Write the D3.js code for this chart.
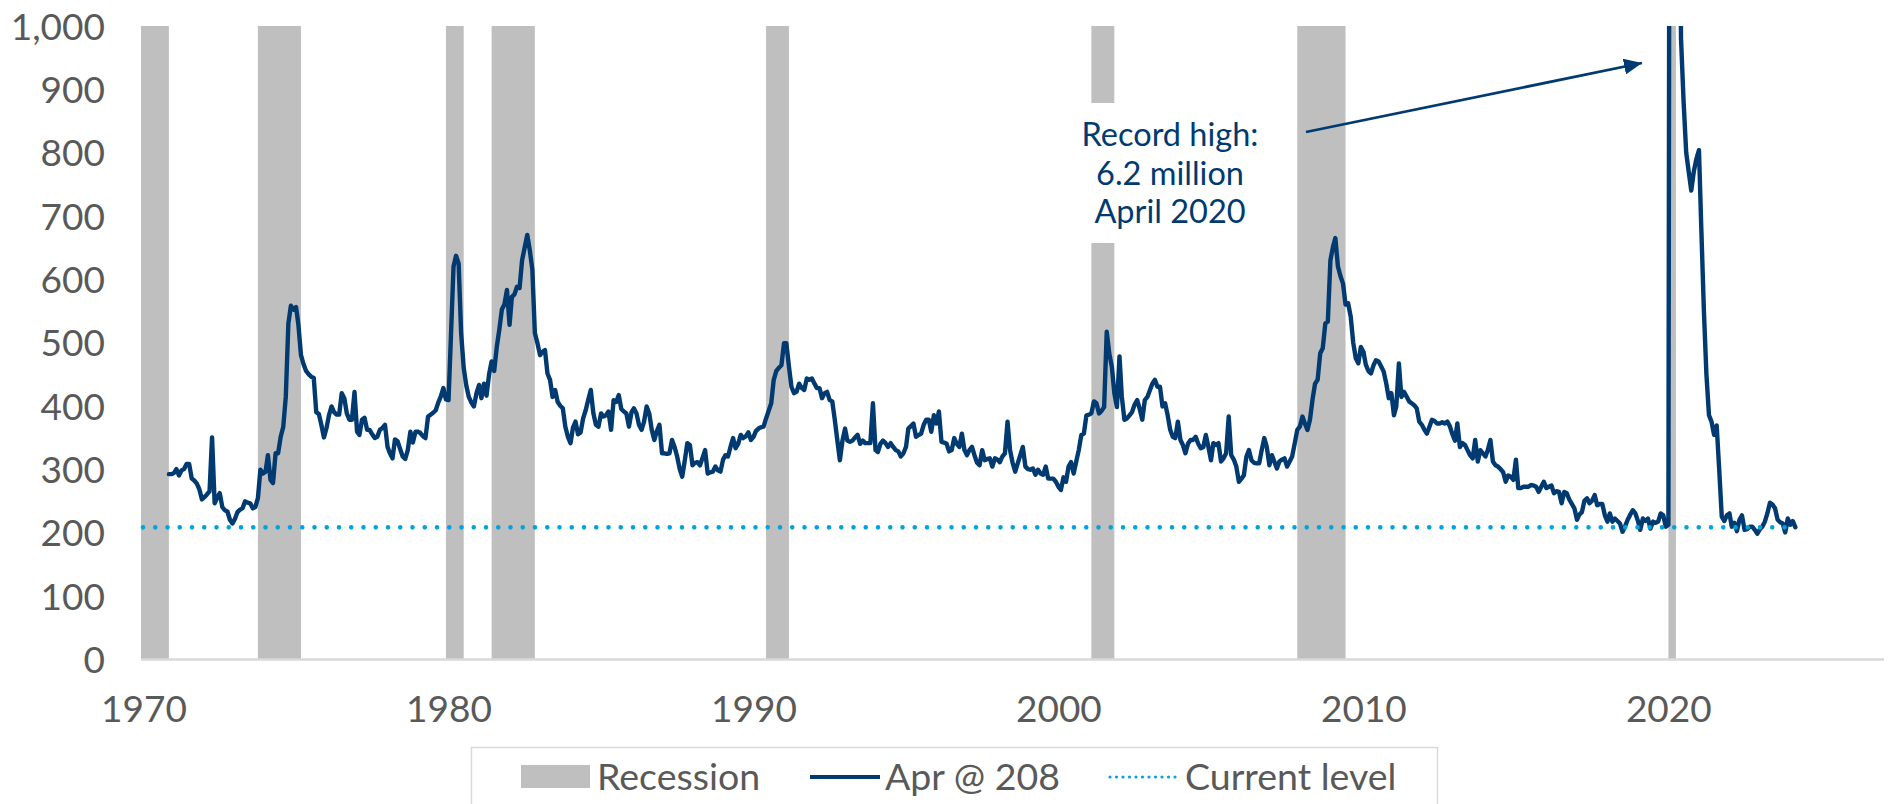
<!DOCTYPE html>
<html>
<head>
<meta charset="utf-8">
<script src="https://cdn.jsdelivr.net/npm/d3@7"></script>
<style>
  html, body { margin: 0; padding: 0; background: #ffffff; }
  svg { display: block; font-family: Lato, "Open Sans", "Noto Sans", sans-serif; }
</style>
</head>
<body>
<svg id="chart" width="1890" height="804"></svg>
<script>
// ---------------- DATA ----------------
// Monthly initial jobless claims (thousands), first value = Dec 1970
const firstMonth = "1970-12";
const claims1970s = [
  292,
  292, 294, 300, 290, 298, 300, 308, 308, 285, 282, 277, 268,
  252, 256, 260, 265, 350, 246, 255, 262, 240, 235, 233, 220,
  214, 222, 232, 236, 238, 249, 247, 246, 238, 240, 254, 299,
  293, 296, 322, 283, 278, 325, 325, 351, 367, 414, 530, 558,
  552, 556, 528, 480, 466, 455, 450, 446, 444, 390, 387, 370,
  350, 365, 385, 399, 390, 386, 386, 420, 412, 388, 378, 378,
  422, 359, 354, 378, 381, 362, 362, 355, 349, 351, 362, 365,
  370, 335, 325, 317, 347, 344, 332, 320, 316, 330, 359, 342,
  359, 359, 357, 352, 349, 383, 386, 389, 393, 405, 415, 428
];
const claims1980s = [
  410, 409, 510, 620, 637, 625, 515, 460, 432, 414, 405, 399,
  420, 433, 412, 435, 416, 450, 470, 455, 493, 520, 552, 560,
  583, 528, 572, 576, 588, 586, 630, 650, 670, 646, 615, 515,
  499, 480, 485, 488, 451, 441, 414, 425, 406, 400, 396, 367,
  351, 341, 365, 375, 355, 358, 380, 393, 410, 425, 388, 370,
  367, 388, 383, 385, 391, 362, 409, 406, 417, 395, 391, 388,
  367, 390, 396, 388, 370, 362, 375, 399, 388, 362, 346, 360,
  370, 325, 325, 324, 325, 346, 335, 320, 300, 288, 314, 341,
  338, 306, 310, 311, 306, 318, 330, 293, 295, 296, 304, 298,
  296, 315, 322, 320, 335, 349, 333, 340, 354, 349, 352, 358
];
const claims1990s = [
  346, 351, 360, 364, 366, 367, 380, 392, 404, 441, 455, 460,
  464, 499, 499, 462, 430, 420, 422, 435, 428, 425, 443, 441,
  443, 435, 428, 428, 412, 420, 422, 409, 407, 378, 345, 314,
  345, 364, 345, 343, 345, 350, 354, 340, 345, 341, 341, 341,
  404, 330, 327, 340, 345, 341, 335, 341, 335, 330, 328, 320,
  325, 335, 364, 368, 372, 351, 354, 356, 370, 378, 378, 359,
  385, 372, 391, 343, 342, 340, 328, 330, 349, 340, 335, 356,
  330, 322, 330, 335, 322, 310, 306, 330, 314, 316, 317, 304,
  317, 315, 311, 320, 325, 375, 330, 310, 296, 309, 322, 335,
  304, 300, 299, 301, 291, 299, 293, 291, 304, 285, 285, 285
];
const claims2000s = [
  280, 272, 267, 287, 280, 304, 311, 293, 312, 330, 354, 356,
  385, 386, 388, 407, 404, 388, 392, 398, 517, 483, 462, 420,
  398, 478, 414, 378, 380, 385, 390, 402, 409, 395, 378, 409,
  414, 425, 435, 441, 430, 430, 399, 404, 385, 362, 351, 349,
  375, 346, 338, 325, 340, 346, 346, 351, 340, 333, 335, 354,
  335, 314, 341, 338, 341, 312, 317, 325, 383, 322, 315, 304,
  280, 285, 290, 320, 330, 314, 310, 309, 309, 330, 349, 335,
  306, 322, 312, 301, 312, 315, 317, 304, 312, 320, 341, 362,
  367, 383, 372, 362, 378, 410, 435, 441, 483, 491, 530, 533,
  630, 651, 665, 620, 605, 593, 560, 562, 541, 500, 475, 467
];
const claims2010s = [
  493, 485, 465, 455, 451, 464, 472, 470, 462, 454, 435, 412,
  420, 385, 399, 467, 414, 422, 415, 407, 404, 401, 396, 375,
  370, 362, 356, 367, 378, 376, 372, 372, 374, 372, 375, 368,
  355, 345, 372, 335, 341, 338, 330, 322, 317, 346, 312, 330,
  325, 320, 330, 346, 312, 306, 304, 300, 295, 280, 290, 288,
  283, 315, 270, 270, 272, 272, 272, 275, 274, 272, 264, 272,
  280, 270, 272, 274, 262, 265, 264, 246, 264, 262, 252, 245,
  238, 220, 228, 232, 250, 254, 246, 250, 259, 243, 245, 245,
  227, 217, 230, 217, 222, 218, 214, 201, 210, 220, 228, 235,
  230, 218, 204, 222, 218, 222, 206, 217, 215, 217, 230, 227
];
const claims2020s = [
  209, 212, 2900, 6200, 2600, 1450, 980, 880, 800, 770, 740, 770,
  790, 804, 680, 550, 450, 385, 375, 354, 369, 300, 225, 218,
  227, 230, 209, 215, 202, 220, 227, 204, 205, 209, 209, 204,
  198, 205, 209, 217, 230, 247, 244, 238, 220, 216, 214, 200,
  222, 212, 218, 208
];
const recessions = [
  ["1969-12", "1970-11"], ["1973-11", "1975-03"], ["1980-01", "1980-07"],
  ["1981-07", "1982-11"], ["1990-07", "1991-03"], ["2001-03", "2001-11"],
  ["2007-12", "2009-06"], ["2020-02", "2020-04"]
];
const currentLevel = 208;
const yTicks = [0, 100, 200, 300, 400, 500, 600, 700, 800, 900, 1000];
const xTickYears = [1970, 1980, 1990, 2000, 2010, 2020];
const legendLabels = ["Recession", "Apr @ 208", "Current level"];
const annotationLines = ["Record high:", "6.2 million", "April 2020"];

// ---------------- SETUP ----------------
const C = {
  line: "#003A70", rec: "#BFBFBF", dot: "#00A3E0",
  axis: "#D9D9D9", text: "#595959"
};
const ym = s => { const [y, m] = s.split("-").map(Number); return new Date(Date.UTC(y, m - 1, 1)); };
const ymNext = s => { const [y, m] = s.split("-").map(Number); return new Date(Date.UTC(y, m, 1)); };

const start = ym(firstMonth);
const values = [].concat(claims1970s, claims1980s, claims1990s, claims2000s, claims2010s, claims2020s);
const series = values.map((v, i) => ({
  date: new Date(Date.UTC(start.getUTCFullYear(), start.getUTCMonth() + i, 1)),
  value: v
}));

const plot = { left: 141, right: 1884, top: 26, bottom: 659 };
const x = d3.scaleUtc()
  .domain([new Date(Date.UTC(1970, 0, 1)), new Date(Date.UTC(2027, 1, 26))])
  .range([plot.left, plot.right]);
const y = d3.scaleLinear().domain([0, 1000]).range([plot.bottom, plot.top]);

const svg = d3.select("#chart");
svg.append("rect").attr("width", 1890).attr("height", 804).attr("fill", "#fff");

const defs = svg.append("defs");
defs.append("clipPath").attr("id", "plotClip")
  .append("rect").attr("x", plot.left).attr("y", plot.top)
  .attr("width", plot.right - plot.left).attr("height", plot.bottom - plot.top);
defs.append("marker").attr("id", "arrowHead")
  .attr("markerUnits", "userSpaceOnUse")
  .attr("markerWidth", 20).attr("markerHeight", 16)
  .attr("refX", 18).attr("refY", 8).attr("orient", "auto")
  .append("path").attr("d", "M0,0 L18,8 L0,16 Z").attr("fill", C.line);

// Recession bars
const g = svg.append("g").attr("clip-path", "url(#plotClip)");
g.selectAll("rect.rec").data(recessions).join("rect")
  .attr("class", "rec")
  .attr("x", d => x(ym(d[0])))
  .attr("width", d => x(ymNext(d[1])) - x(ym(d[0])))
  .attr("y", y(1000))
  .attr("height", y(0) - y(1000))
  .attr("fill", C.rec);

// Annotation background box
svg.append("rect").attr("x", 1072).attr("y", 103).attr("width", 196).attr("height", 140).attr("fill", "#fff");

// X axis baseline
svg.append("line")
  .attr("x1", plot.left).attr("x2", plot.right)
  .attr("y1", y(0) + 0.5).attr("y2", y(0) + 0.5)
  .attr("stroke", C.axis).attr("stroke-width", 2.5);

// Claims line
g.append("path").datum(series)
  .attr("fill", "none").attr("stroke", C.line)
  .attr("stroke-width", 4.4).attr("stroke-linejoin", "round").attr("stroke-linecap", "round")
  .attr("d", d3.line().x(d => x(d.date)).y(d => y(d.value)));

// Current level dotted line
const lastDate = series[series.length - 1].date;
svg.append("line")
  .attr("x1", x(new Date(Date.UTC(1970, 0, 1))) + 2).attr("x2", x(lastDate))
  .attr("y1", y(currentLevel)).attr("y2", y(currentLevel))
  .attr("stroke", C.dot).attr("stroke-width", 4.6)
  .attr("stroke-linecap", "round").attr("stroke-dasharray", "0 12.25");

// Y axis
const yAxis = svg.append("g").attr("transform", "translate(105,0)")
  .call(d3.axisLeft(y).tickValues(yTicks).tickFormat(d3.format(",")).tickSize(0).tickPadding(0));
yAxis.select(".domain").remove();
yAxis.selectAll("text").attr("font-size", 37).attr("fill", C.text)
  .attr("font-family", "Lato, sans-serif").attr("dy", "0.36em");

// X axis labels
const xAxis = svg.append("g").attr("transform", "translate(0,696)")
  .call(d3.axisBottom(x).tickValues(xTickYears.map(yr => new Date(Date.UTC(yr, 0, 1))))
    .tickFormat(d3.utcFormat("%Y")).tickSize(0).tickPadding(0));
xAxis.select(".domain").remove();
xAxis.selectAll("text").attr("font-size", 37).attr("fill", C.text)
  .attr("font-family", "Lato, sans-serif").attr("dx", 2.5);

// Annotation
const ann = svg.append("text").attr("text-anchor", "middle")
  .attr("font-size", 32.5).attr("fill", C.line);
annotationLines.forEach((t, i) => {
  ann.append("tspan").attr("x", 1170).attr("y", 146 + i * 38.5).text(t);
});
svg.append("line")
  .attr("x1", 1306).attr("y1", 132).attr("x2", 1642).attr("y2", 63)
  .attr("stroke", C.line).attr("stroke-width", 2.75)
  .attr("marker-end", "url(#arrowHead)");

// Legend
const lg = svg.append("g");
lg.append("rect").attr("x", 471.5).attr("y", 747.5).attr("width", 966).attr("height", 100)
  .attr("fill", "#fff").attr("stroke", C.axis).attr("stroke-width", 1.5);
lg.append("rect").attr("x", 521).attr("y", 765).attr("width", 69).attr("height", 23).attr("fill", C.rec);
lg.append("line").attr("x1", 810).attr("x2", 880).attr("y1", 777).attr("y2", 777)
  .attr("stroke", C.line).attr("stroke-width", 4);
lg.append("line").attr("x1", 1110).attr("x2", 1176).attr("y1", 777).attr("y2", 777)
  .attr("stroke", C.dot).attr("stroke-width", 3.2).attr("stroke-linecap", "round")
  .attr("stroke-dasharray", "0 6.5");
const legendX = [597, 885, 1185];
lg.selectAll("text.lab").data(legendLabels).join("text")
  .attr("class", "lab")
  .attr("x", (d, i) => legendX[i]).attr("y", 790)
  .attr("font-size", 37.5).attr("fill", C.text).text(d => d);
</script>
</body>
</html>
